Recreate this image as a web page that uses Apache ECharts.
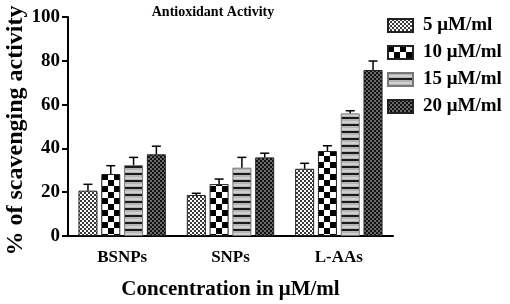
<!DOCTYPE html>
<html>
<head>
<meta charset="utf-8">
<script src="https://cdn.jsdelivr.net/npm/echarts@6/dist/echarts.min.js"></script>
<style>
  html, body { margin: 0; padding: 0; background: #fff; }
  #chart { width: 510px; height: 304px; }
</style>
</head>
<body>
<div id="chart"></div>
<script>
// ==============================
// 数据
// ==============================
const categories = ['BSNPs', 'SNPs', 'L-AAs'];
const seriesNames = ['5 \u03bcM/ml', '10 \u03bcM/ml', '15 \u03bcM/ml', '20 \u03bcM/ml'];

const values5 = [20.7, 18.7, 30.7];
const values10 = [28.3, 23.7, 38.8];
const values15 = [32.4, 31.2, 56.0];
const values20 = [37.3, 35.9, 75.8];

const err5 = [2.9, 0.8, 2.5];
const err10 = [3.8, 2.3, 2.4];
const err15 = [3.5, 4.7, 1.2];
const err20 = [3.7, 1.9, 4.1];

const allValues = [values5, values10, values15, values20];
const allErrors = [err5, err10, err15, err20];

const FONT = 'Liberation Serif';

// ==============================
// 填充图案
// ==============================
function makePattern(w, h, draw) {
  const c = document.createElement('canvas');
  c.width = w;
  c.height = h;
  draw(c.getContext('2d'));
  return { image: c, repeat: 'repeat' };
}

function checker(size, a, b) {
  return makePattern(size * 2, size * 2, ctx => {
    ctx.fillStyle = a;
    ctx.fillRect(0, 0, size * 2, size * 2);
    ctx.fillStyle = b;
    ctx.fillRect(0, 0, size, size);
    ctx.fillRect(size, size, size, size);
  });
}

const patterns = [
  checker(2, '#ffffff', '#3a3a3a'),
  checker(6, '#ffffff', '#000000'),
  makePattern(4, 7, ctx => {
    ctx.fillStyle = '#b4b4b4';
    ctx.fillRect(0, 0, 4, 7);
    ctx.fillStyle = '#d0d0d0';
    ctx.fillRect(0, 2, 4, 2);
    ctx.fillStyle = '#1a1a1a';
    ctx.fillRect(0, 5, 4, 2);
  }),
  checker(2, '#6a6a6a', '#111111')
];

const BAR_W = 19;
const BAR_STEP = 22.8;

// ==============================
// 系列
// ==============================
const barSeries = seriesNames.map((name, i) => ({
  name,
  type: 'bar',
  data: allValues[i],
  barWidth: BAR_W,
  barGap: '20%',
  itemStyle: {
    color: patterns[i],
    borderColor: i === 2 ? '#777' : '#222',
    borderWidth: 1
  },
  z: 2
}));

const errSeries = seriesNames.map((name, i) => ({
  name: name + ' err',
  type: 'custom',
  data: allValues[i].map((v, k) => [k, v, v + allErrors[i][k]]),
  renderItem: (params, api) => {
    const base = api.coord([api.value(0), api.value(1)]);
    const top = api.coord([api.value(0), api.value(2)]);
    const x = base[0] + (i - 1.5) * BAR_STEP;
    const style = { stroke: '#000', lineWidth: 1.5 };
    return {
      type: 'group',
      children: [
        { type: 'line', shape: { x1: x, y1: base[1], x2: x, y2: top[1] }, style },
        { type: 'line', shape: { x1: x - 4.5, y1: top[1], x2: x + 4.5, y2: top[1] }, style }
      ]
    };
  },
  z: 3,
  silent: true
}));

const chart = echarts.init(document.getElementById('chart'));

chart.setOption({
  animation: false,
  backgroundColor: '#fff',
  title: {
    text: 'Antioxidant Activity',
    left: 213,
    top: 5,
    padding: 0,
    textAlign: 'center',
    textStyle: { fontFamily: FONT, fontWeight: 'bold', fontSize: 14, color: '#000' }
  },
  legend: {
    data: seriesNames,
    orient: 'vertical',
    left: 387,
    top: 16,
    padding: 0,
    itemWidth: 25,
    itemHeight: 13,
    itemGap: 8,
    icon: 'rect',
    textStyle: {
      fontFamily: FONT, fontWeight: 'bold', fontSize: 19, lineHeight: 19,
      color: '#000', padding: [0, 0, 0, 5]
    }
  },
  grid: { left: 68, right: 117, top: 17, bottom: 68, outerBoundsMode: 'none', containLabel: false },
  xAxis: {
    type: 'category',
    data: categories,
    name: 'Concentration in \u03bcM/ml',
    nameLocation: 'middle',
    nameGap: 43,
    nameMoveOverlap: false,
    nameTextStyle: { fontFamily: FONT, fontWeight: 'bold', fontSize: 21, color: '#000' },
    axisLine: { lineStyle: { color: '#000', width: 2 } },
    axisTick: { alignWithLabel: true, length: 6, lineStyle: { color: '#000', width: 2 } },
    axisLabel: { fontFamily: FONT, fontWeight: 'bold', fontSize: 17, color: '#000', margin: 13 }
  },
  yAxis: {
    type: 'value',
    min: 0,
    max: 100,
    interval: 20,
    name: '% of scavenging activity',
    nameLocation: 'middle',
    nameGap: 40,
    nameMoveOverlap: false,
    nameTextStyle: { fontFamily: FONT, fontWeight: 'bold', fontSize: 24, color: '#000', padding: [0, 8, 0, 0] },
    axisLine: { show: true, lineStyle: { color: '#000', width: 2 } },
    axisTick: { show: true, length: 6, lineStyle: { color: '#000', width: 2 } },
    axisLabel: { fontFamily: FONT, fontWeight: 'bold', fontSize: 19, color: '#000', margin: 8 },
    splitLine: { show: false }
  },
  series: [...barSeries, ...errSeries]
});
</script>
</body>
</html>
